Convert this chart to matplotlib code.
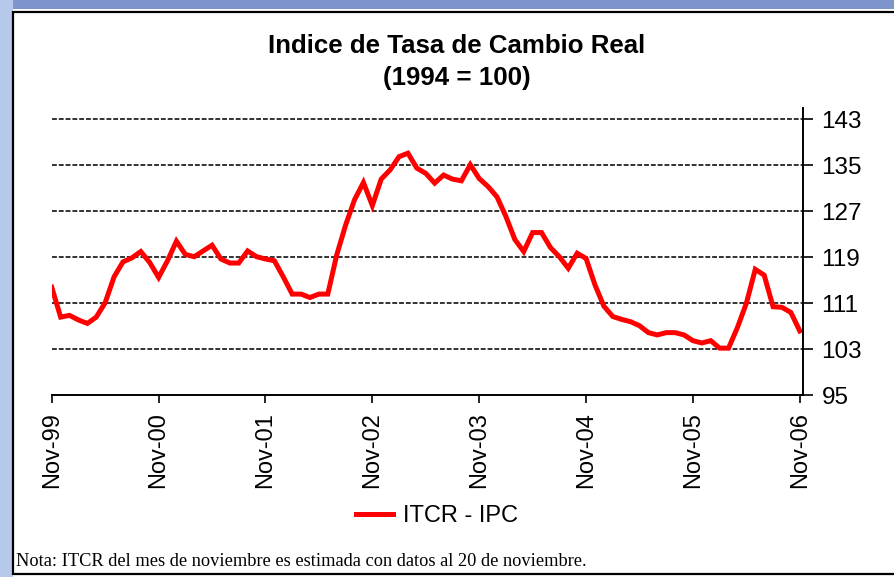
import numpy as np
import matplotlib.pyplot as plt
from matplotlib.patches import Rectangle

plt.rcParams['font.family'] = ['Liberation Sans', 'DejaVu Sans']

titulo = 'Indice de Tasa de Cambio Real'
subtitulo = '(1994 = 100)'
serie = 'ITCR - IPC'
nota = 'Nota: ITCR del mes de noviembre es estimada con datos al 20 de noviembre.'

# ITCR mensual, nov-99 a nov-06
itcr = [113.8, 108.6, 108.9, 108.1, 107.5, 108.6, 111.1, 115.6, 118.2, 118.9,
        120.0, 118.1, 115.5, 118.4, 121.8, 119.5, 119.1, 120.1, 121.1, 118.7,
        118.0, 118.0, 120.1, 119.1, 118.7, 118.4, 115.6, 112.6, 112.6, 112.0,
        112.6, 112.6, 119.4, 124.6, 129.0, 132.0, 128.0, 132.6, 134.2, 136.5,
        137.1, 134.5, 133.6, 131.9, 133.3, 132.6, 132.3, 135.1, 132.7, 131.3,
        129.5, 126.1, 122.1, 120.0, 123.3, 123.3, 120.7, 119.1, 117.1, 119.7,
        118.8, 114.2, 110.5, 108.7, 108.2, 107.8, 107.1, 105.9, 105.5, 105.9,
        105.9, 105.5, 104.5, 104.1, 104.5, 103.2, 103.2, 106.8, 111.0, 116.9,
        115.9, 110.4, 110.3, 109.4, 106.2]
etiquetas_x = ['Nov-99', 'Nov-00', 'Nov-01', 'Nov-02', 'Nov-03', 'Nov-04', 'Nov-05', 'Nov-06']
ticks_y = [95, 103, 111, 119, 127, 135, 143]

meses = np.arange(len(itcr))

fig = plt.figure(figsize=(8.95, 5.77), dpi=100)

# fondo de la diapositiva
fig.patches.append(Rectangle((0, 0.984), 1, 0.016, transform=fig.transFigure,
                             facecolor='#7d95cb', edgecolor='none', zorder=0))
fig.patches.append(Rectangle((0, 0), 0.014, 1, transform=fig.transFigure,
                             facecolor='#b7c9ea', edgecolor='none', zorder=0))
fig.patches.append(Rectangle((0.0148, 0.005), 1.0, 0.974, transform=fig.transFigure,
                             facecolor='white', edgecolor='black', linewidth=1.6, zorder=1))

ax = fig.add_axes([0.0578, 0.3149, 0.8398, 0.4983])
ax.set_zorder(2)
ax.patch.set_alpha(0)

ax.plot(meses, itcr, color='#ff0000', linewidth=3.6, label=serie, solid_joinstyle='miter')

ax.set_xlim(0, 84.4)
ax.set_ylim(95, 145)
ax.set_xticks(meses[::12])
ax.set_xticklabels(etiquetas_x, rotation=90, fontsize=17)
ax.set_yticks(ticks_y)
ax.yaxis.tick_right()
ax.tick_params(axis='y', labelsize=17.5, length=7, width=1.2, direction='out', pad=6)
ax.tick_params(axis='x', length=6, width=1.2, direction='out', pad=6)

for y in ticks_y[1:]:
    ax.axhline(y, color='#333333', linewidth=1.4, linestyle=(0, (2.5, 1)), zorder=1)

ax.spines['left'].set_visible(False)
ax.spines['top'].set_visible(False)
ax.spines['right'].set_linewidth(1.4)
ax.spines['bottom'].set_linewidth(1.4)

fig.text(0.51, 0.92, titulo, ha='center', va='center', fontsize=18.6, fontweight='bold')
fig.text(0.51, 0.864, subtitulo, ha='center', va='center', fontsize=18.6, fontweight='bold')

fig.legend(loc='center', bbox_to_anchor=(0.488, 0.106), frameon=False, fontsize=17,
           handlelength=1.6, handletextpad=0.4)

fig.text(0.018, 0.026, nota, ha='left', va='center', fontsize=13.2, family='Liberation Serif')

fig.savefig('out.png', dpi=100)
